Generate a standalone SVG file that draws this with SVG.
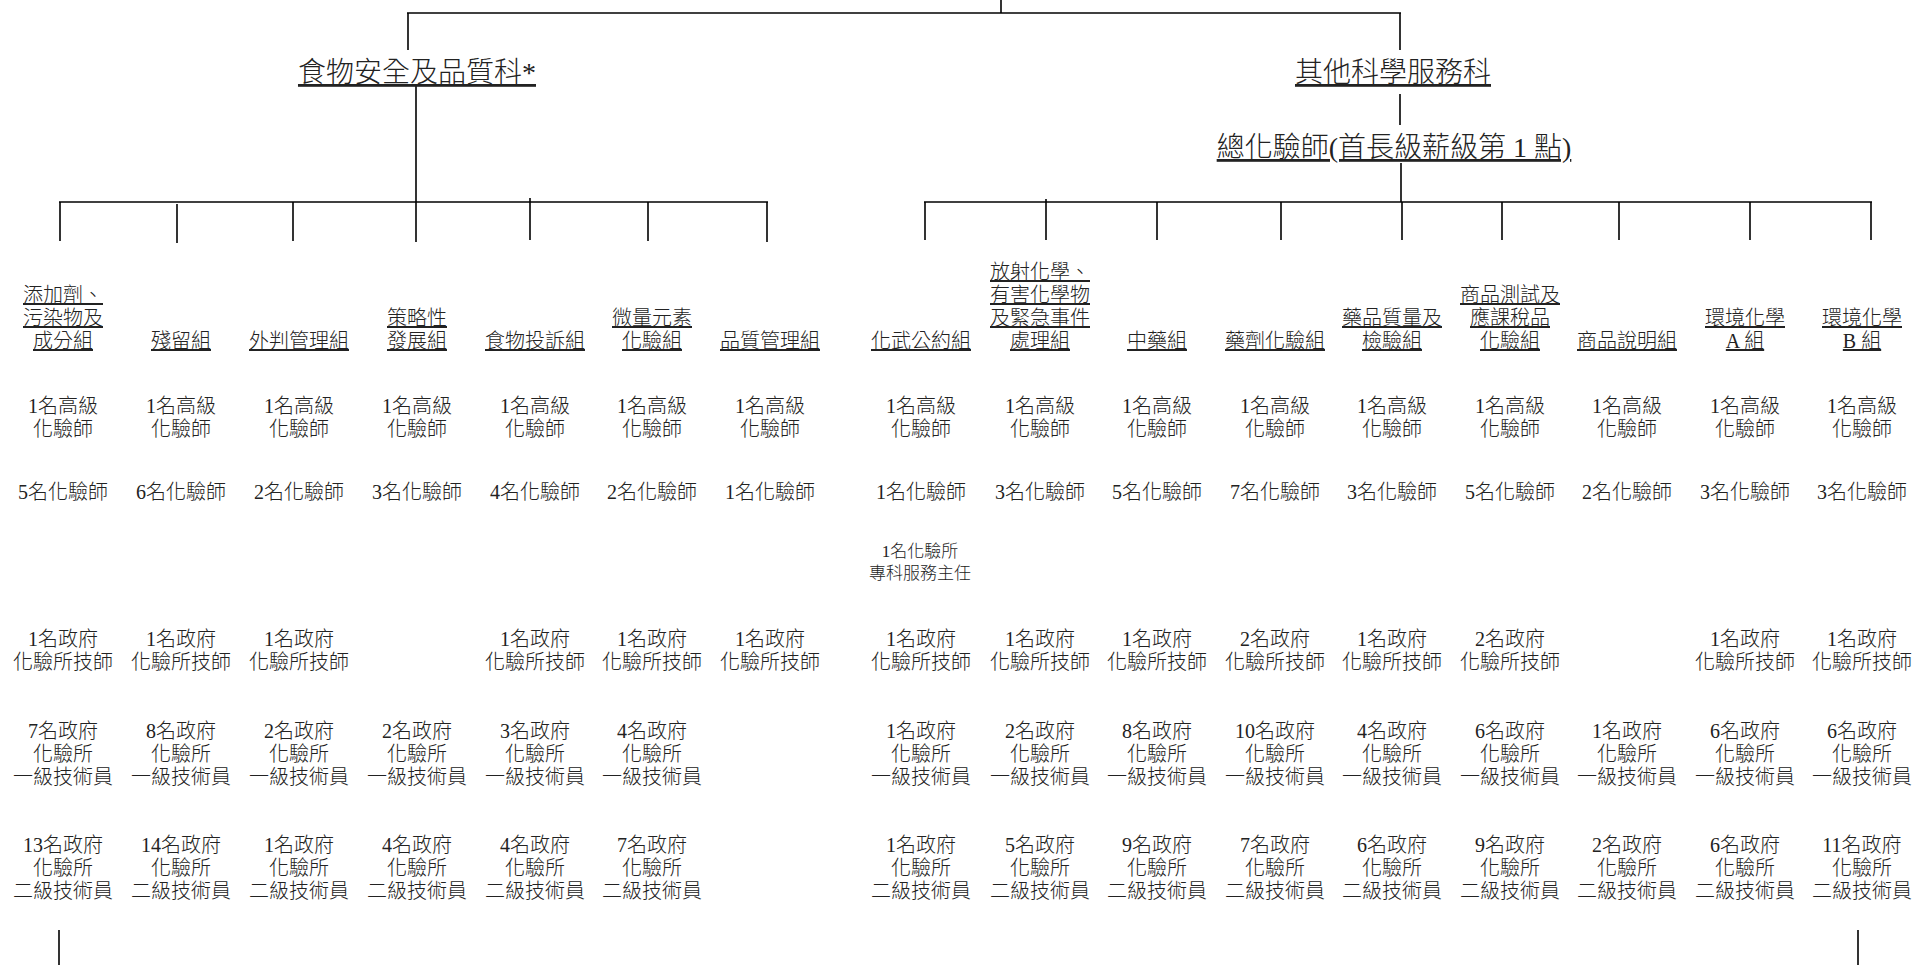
<svg xmlns="http://www.w3.org/2000/svg" width="1916" height="965" viewBox="0 0 1916 965">
<style>
text{font-family:"Liberation Serif","Noto Sans CJK TC",serif;fill:#222;text-anchor:middle;font-weight:300}
.title{font-size:28px;text-decoration:underline}
.lbl{font-size:20px;text-decoration:underline}
.t{font-size:20px}
.s{font-size:17px}
.c line{stroke:#000;stroke-width:1.6;fill:none}
</style>
<rect width="1916" height="965" fill="#fff"/>
<g class="c" id="connectors">
<line x1="1001" y1="0" x2="1001" y2="13"/>
<line x1="407" y1="13" x2="1401" y2="13"/>
<line x1="408" y1="13" x2="408" y2="50"/>
<line x1="1400" y1="13" x2="1400" y2="50"/>
<line x1="416" y1="86" x2="416" y2="202"/>
<line x1="59" y1="202" x2="768" y2="202"/>
<line x1="60" y1="202" x2="60" y2="241"/>
<line x1="177" y1="204" x2="177" y2="243"/>
<line x1="293" y1="202" x2="293" y2="241"/>
<line x1="416" y1="202" x2="416" y2="242"/>
<line x1="530" y1="198" x2="530" y2="240"/>
<line x1="648" y1="202" x2="648" y2="241"/>
<line x1="767" y1="202" x2="767" y2="242"/>
<line x1="1400" y1="94" x2="1400" y2="125"/>
<line x1="1401" y1="163" x2="1401" y2="202"/>
<line x1="924" y1="202" x2="1872" y2="202"/>
<line x1="925" y1="202" x2="925" y2="240"/>
<line x1="1046" y1="199" x2="1046" y2="240"/>
<line x1="1157" y1="202" x2="1157" y2="240"/>
<line x1="1281" y1="202" x2="1281" y2="240"/>
<line x1="1402" y1="202" x2="1402" y2="240"/>
<line x1="1502" y1="202" x2="1502" y2="240"/>
<line x1="1619" y1="202" x2="1619" y2="240"/>
<line x1="1750" y1="202" x2="1750" y2="240"/>
<line x1="1871" y1="202" x2="1871" y2="240"/>
<line x1="59" y1="930" x2="59" y2="965"/>
<line x1="1858" y1="930" x2="1858" y2="965"/>
</g>
<g id="sec-food"><text class="title" x="417" y="82">食物安全及品質科*</text></g>
<g id="sec-other"><text class="title" x="1393" y="82">其他科學服務科</text></g>
<g id="chief"><text class="title" x="1394" y="157">總化驗師(首長級薪級第 1 點)</text></g>

<g id="u-additives">
<text class="lbl" x="63" y="302"><tspan x="63">添加劑、</tspan><tspan x="63" dy="23">污染物及</tspan><tspan x="63" dy="23">成分組</tspan></text>
<text class="t" x="63" y="413"><tspan x="63">1名高級</tspan><tspan x="63" dy="23">化驗師</tspan></text>
<text class="t" x="63" y="499">5名化驗師</text>
<text class="t" x="63" y="646"><tspan x="63">1名政府</tspan><tspan x="63" dy="23">化驗所技師</tspan></text>
<text class="t" x="63" y="738"><tspan x="63">7名政府</tspan><tspan x="63" dy="23">化驗所</tspan><tspan x="63" dy="23">一級技術員</tspan></text>
<text class="t" x="63" y="852"><tspan x="63">13名政府</tspan><tspan x="63" dy="23">化驗所</tspan><tspan x="63" dy="23">二級技術員</tspan></text>
</g>
<g id="u-residue">
<text class="lbl" x="181" y="348">殘留組</text>
<text class="t" x="181" y="413"><tspan x="181">1名高級</tspan><tspan x="181" dy="23">化驗師</tspan></text>
<text class="t" x="181" y="499">6名化驗師</text>
<text class="t" x="181" y="646"><tspan x="181">1名政府</tspan><tspan x="181" dy="23">化驗所技師</tspan></text>
<text class="t" x="181" y="738"><tspan x="181">8名政府</tspan><tspan x="181" dy="23">化驗所</tspan><tspan x="181" dy="23">一級技術員</tspan></text>
<text class="t" x="181" y="852"><tspan x="181">14名政府</tspan><tspan x="181" dy="23">化驗所</tspan><tspan x="181" dy="23">二級技術員</tspan></text>
</g>
<g id="u-outsourcing">
<text class="lbl" x="299" y="348">外判管理組</text>
<text class="t" x="299" y="413"><tspan x="299">1名高級</tspan><tspan x="299" dy="23">化驗師</tspan></text>
<text class="t" x="299" y="499">2名化驗師</text>
<text class="t" x="299" y="646"><tspan x="299">1名政府</tspan><tspan x="299" dy="23">化驗所技師</tspan></text>
<text class="t" x="299" y="738"><tspan x="299">2名政府</tspan><tspan x="299" dy="23">化驗所</tspan><tspan x="299" dy="23">一級技術員</tspan></text>
<text class="t" x="299" y="852"><tspan x="299">1名政府</tspan><tspan x="299" dy="23">化驗所</tspan><tspan x="299" dy="23">二級技術員</tspan></text>
</g>
<g id="u-strategy">
<text class="lbl" x="417" y="325"><tspan x="417">策略性</tspan><tspan x="417" dy="23">發展組</tspan></text>
<text class="t" x="417" y="413"><tspan x="417">1名高級</tspan><tspan x="417" dy="23">化驗師</tspan></text>
<text class="t" x="417" y="499">3名化驗師</text>
<text class="t" x="417" y="738"><tspan x="417">2名政府</tspan><tspan x="417" dy="23">化驗所</tspan><tspan x="417" dy="23">一級技術員</tspan></text>
<text class="t" x="417" y="852"><tspan x="417">4名政府</tspan><tspan x="417" dy="23">化驗所</tspan><tspan x="417" dy="23">二級技術員</tspan></text>
</g>
<g id="u-complaints">
<text class="lbl" x="535" y="348">食物投訴組</text>
<text class="t" x="535" y="413"><tspan x="535">1名高級</tspan><tspan x="535" dy="23">化驗師</tspan></text>
<text class="t" x="535" y="499">4名化驗師</text>
<text class="t" x="535" y="646"><tspan x="535">1名政府</tspan><tspan x="535" dy="23">化驗所技師</tspan></text>
<text class="t" x="535" y="738"><tspan x="535">3名政府</tspan><tspan x="535" dy="23">化驗所</tspan><tspan x="535" dy="23">一級技術員</tspan></text>
<text class="t" x="535" y="852"><tspan x="535">4名政府</tspan><tspan x="535" dy="23">化驗所</tspan><tspan x="535" dy="23">二級技術員</tspan></text>
</g>
<g id="u-trace">
<text class="lbl" x="652" y="325"><tspan x="652">微量元素</tspan><tspan x="652" dy="23">化驗組</tspan></text>
<text class="t" x="652" y="413"><tspan x="652">1名高級</tspan><tspan x="652" dy="23">化驗師</tspan></text>
<text class="t" x="652" y="499">2名化驗師</text>
<text class="t" x="652" y="646"><tspan x="652">1名政府</tspan><tspan x="652" dy="23">化驗所技師</tspan></text>
<text class="t" x="652" y="738"><tspan x="652">4名政府</tspan><tspan x="652" dy="23">化驗所</tspan><tspan x="652" dy="23">一級技術員</tspan></text>
<text class="t" x="652" y="852"><tspan x="652">7名政府</tspan><tspan x="652" dy="23">化驗所</tspan><tspan x="652" dy="23">二級技術員</tspan></text>
</g>
<g id="u-quality">
<text class="lbl" x="770" y="348">品質管理組</text>
<text class="t" x="770" y="413"><tspan x="770">1名高級</tspan><tspan x="770" dy="23">化驗師</tspan></text>
<text class="t" x="770" y="499">1名化驗師</text>
<text class="t" x="770" y="646"><tspan x="770">1名政府</tspan><tspan x="770" dy="23">化驗所技師</tspan></text>
</g>

<g id="u-cwc">
<text class="lbl" x="921" y="348">化武公約組</text>
<text class="t" x="921" y="413"><tspan x="921">1名高級</tspan><tspan x="921" dy="23">化驗師</tspan></text>
<text class="t" x="921" y="499">1名化驗師</text>
<text class="s" x="920" y="557"><tspan x="920">1名化驗所</tspan><tspan x="920" dy="22">專科服務主任</tspan></text>
<text class="t" x="921" y="646"><tspan x="921">1名政府</tspan><tspan x="921" dy="23">化驗所技師</tspan></text>
<text class="t" x="921" y="738"><tspan x="921">1名政府</tspan><tspan x="921" dy="23">化驗所</tspan><tspan x="921" dy="23">一級技術員</tspan></text>
<text class="t" x="921" y="852"><tspan x="921">1名政府</tspan><tspan x="921" dy="23">化驗所</tspan><tspan x="921" dy="23">二級技術員</tspan></text>
</g>
<g id="u-radio">
<text class="lbl" x="1040" y="279"><tspan x="1040">放射化學、</tspan><tspan x="1040" dy="23">有害化學物</tspan><tspan x="1040" dy="23">及緊急事件</tspan><tspan x="1040" dy="23">處理組</tspan></text>
<text class="t" x="1040" y="413"><tspan x="1040">1名高級</tspan><tspan x="1040" dy="23">化驗師</tspan></text>
<text class="t" x="1040" y="499">3名化驗師</text>
<text class="t" x="1040" y="646"><tspan x="1040">1名政府</tspan><tspan x="1040" dy="23">化驗所技師</tspan></text>
<text class="t" x="1040" y="738"><tspan x="1040">2名政府</tspan><tspan x="1040" dy="23">化驗所</tspan><tspan x="1040" dy="23">一級技術員</tspan></text>
<text class="t" x="1040" y="852"><tspan x="1040">5名政府</tspan><tspan x="1040" dy="23">化驗所</tspan><tspan x="1040" dy="23">二級技術員</tspan></text>
</g>
<g id="u-cm">
<text class="lbl" x="1157" y="348">中藥組</text>
<text class="t" x="1157" y="413"><tspan x="1157">1名高級</tspan><tspan x="1157" dy="23">化驗師</tspan></text>
<text class="t" x="1157" y="499">5名化驗師</text>
<text class="t" x="1157" y="646"><tspan x="1157">1名政府</tspan><tspan x="1157" dy="23">化驗所技師</tspan></text>
<text class="t" x="1157" y="738"><tspan x="1157">8名政府</tspan><tspan x="1157" dy="23">化驗所</tspan><tspan x="1157" dy="23">一級技術員</tspan></text>
<text class="t" x="1157" y="852"><tspan x="1157">9名政府</tspan><tspan x="1157" dy="23">化驗所</tspan><tspan x="1157" dy="23">二級技術員</tspan></text>
</g>
<g id="u-pharma">
<text class="lbl" x="1275" y="348">藥劑化驗組</text>
<text class="t" x="1275" y="413"><tspan x="1275">1名高級</tspan><tspan x="1275" dy="23">化驗師</tspan></text>
<text class="t" x="1275" y="499">7名化驗師</text>
<text class="t" x="1275" y="646"><tspan x="1275">2名政府</tspan><tspan x="1275" dy="23">化驗所技師</tspan></text>
<text class="t" x="1275" y="738"><tspan x="1275">10名政府</tspan><tspan x="1275" dy="23">化驗所</tspan><tspan x="1275" dy="23">一級技術員</tspan></text>
<text class="t" x="1275" y="852"><tspan x="1275">7名政府</tspan><tspan x="1275" dy="23">化驗所</tspan><tspan x="1275" dy="23">二級技術員</tspan></text>
</g>
<g id="u-drugqa">
<text class="lbl" x="1392" y="325"><tspan x="1392">藥品質量及</tspan><tspan x="1392" dy="23">檢驗組</tspan></text>
<text class="t" x="1392" y="413"><tspan x="1392">1名高級</tspan><tspan x="1392" dy="23">化驗師</tspan></text>
<text class="t" x="1392" y="499">3名化驗師</text>
<text class="t" x="1392" y="646"><tspan x="1392">1名政府</tspan><tspan x="1392" dy="23">化驗所技師</tspan></text>
<text class="t" x="1392" y="738"><tspan x="1392">4名政府</tspan><tspan x="1392" dy="23">化驗所</tspan><tspan x="1392" dy="23">一級技術員</tspan></text>
<text class="t" x="1392" y="852"><tspan x="1392">6名政府</tspan><tspan x="1392" dy="23">化驗所</tspan><tspan x="1392" dy="23">二級技術員</tspan></text>
</g>
<g id="u-commodity">
<text class="lbl" x="1510" y="302"><tspan x="1510">商品測試及</tspan><tspan x="1510" dy="23">應課稅品</tspan><tspan x="1510" dy="23">化驗組</tspan></text>
<text class="t" x="1510" y="413"><tspan x="1510">1名高級</tspan><tspan x="1510" dy="23">化驗師</tspan></text>
<text class="t" x="1510" y="499">5名化驗師</text>
<text class="t" x="1510" y="646"><tspan x="1510">2名政府</tspan><tspan x="1510" dy="23">化驗所技師</tspan></text>
<text class="t" x="1510" y="738"><tspan x="1510">6名政府</tspan><tspan x="1510" dy="23">化驗所</tspan><tspan x="1510" dy="23">一級技術員</tspan></text>
<text class="t" x="1510" y="852"><tspan x="1510">9名政府</tspan><tspan x="1510" dy="23">化驗所</tspan><tspan x="1510" dy="23">二級技術員</tspan></text>
</g>
<g id="u-description">
<text class="lbl" x="1627" y="348">商品說明組</text>
<text class="t" x="1627" y="413"><tspan x="1627">1名高級</tspan><tspan x="1627" dy="23">化驗師</tspan></text>
<text class="t" x="1627" y="499">2名化驗師</text>
<text class="t" x="1627" y="738"><tspan x="1627">1名政府</tspan><tspan x="1627" dy="23">化驗所</tspan><tspan x="1627" dy="23">一級技術員</tspan></text>
<text class="t" x="1627" y="852"><tspan x="1627">2名政府</tspan><tspan x="1627" dy="23">化驗所</tspan><tspan x="1627" dy="23">二級技術員</tspan></text>
</g>
<g id="u-envA">
<text class="lbl" x="1745" y="325"><tspan x="1745">環境化學</tspan><tspan x="1745" dy="23">A 組</tspan></text>
<text class="t" x="1745" y="413"><tspan x="1745">1名高級</tspan><tspan x="1745" dy="23">化驗師</tspan></text>
<text class="t" x="1745" y="499">3名化驗師</text>
<text class="t" x="1745" y="646"><tspan x="1745">1名政府</tspan><tspan x="1745" dy="23">化驗所技師</tspan></text>
<text class="t" x="1745" y="738"><tspan x="1745">6名政府</tspan><tspan x="1745" dy="23">化驗所</tspan><tspan x="1745" dy="23">一級技術員</tspan></text>
<text class="t" x="1745" y="852"><tspan x="1745">6名政府</tspan><tspan x="1745" dy="23">化驗所</tspan><tspan x="1745" dy="23">二級技術員</tspan></text>
</g>
<g id="u-envB">
<text class="lbl" x="1862" y="325"><tspan x="1862">環境化學</tspan><tspan x="1862" dy="23">B 組</tspan></text>
<text class="t" x="1862" y="413"><tspan x="1862">1名高級</tspan><tspan x="1862" dy="23">化驗師</tspan></text>
<text class="t" x="1862" y="499">3名化驗師</text>
<text class="t" x="1862" y="646"><tspan x="1862">1名政府</tspan><tspan x="1862" dy="23">化驗所技師</tspan></text>
<text class="t" x="1862" y="738"><tspan x="1862">6名政府</tspan><tspan x="1862" dy="23">化驗所</tspan><tspan x="1862" dy="23">一級技術員</tspan></text>
<text class="t" x="1862" y="852"><tspan x="1862">11名政府</tspan><tspan x="1862" dy="23">化驗所</tspan><tspan x="1862" dy="23">二級技術員</tspan></text>
</g>
</svg>
